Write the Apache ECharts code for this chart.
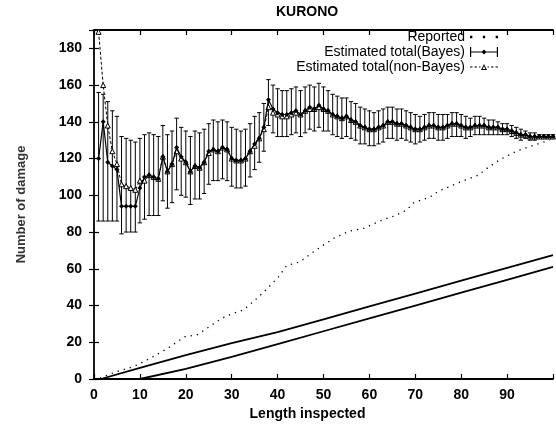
<!DOCTYPE html>
<html>
<head>
<meta charset="utf-8">
<script src="https://cdn.jsdelivr.net/npm/echarts@6/dist/echarts.min.js"></script>
<style>
  html, body { margin: 0; padding: 0; background: #fff; }
  #chart { width: 556px; height: 426px; }
</style>
</head>
<body>
<div id="chart"></div>
<script>
// length inspected for the estimate series
const lengthX = [
  1, 2, 3, 4, 5, 6, 7, 8, 9, 10,
  11, 12, 13, 14, 15, 16, 17, 18, 19, 20,
  21, 22, 23, 24, 25, 26, 27, 28, 29, 30,
  31, 32, 33, 34, 35, 36, 37, 38, 39, 40,
  41, 42, 43, 44, 45, 46, 47, 48, 49, 50,
  51, 52, 53, 54, 55, 56, 57, 58, 59, 60,
  61, 62, 63, 64, 65, 66, 67, 68, 69, 70,
  71, 72, 73, 74, 75, 76, 77, 78, 79, 80,
  81, 82, 83, 84, 85, 86, 87, 88, 89, 90,
  91, 92, 93, 94, 95, 96, 97, 98, 99, 100
]
// Estimated total (Bayes) and its interval
const bayes = [
  120, 140, 118, 116, 114, 94, 94, 94, 94, 104,
  110, 111, 110, 109, 121, 113, 117, 126, 121, 118,
  113, 116, 115, 118, 124, 125, 124, 126, 125, 120,
  119, 119, 120, 124, 128, 131, 137, 152, 147, 145,
  144, 144, 145, 146, 144, 146, 148, 147, 149, 147,
  146, 144, 143, 142, 143, 141, 140, 138, 137, 136,
  136, 137, 138, 140, 140, 139, 139, 138, 137, 136,
  136, 137, 138, 138, 137, 137, 138, 139, 139, 138,
  137, 137, 138, 138, 138, 137, 137, 137, 136, 136,
  135, 134, 133, 133, 132, 132, 132, 132, 132, 132
]
const bayesHigh = [
  156, 155, 151, 146, 143, 132, 131, 130, 129, 131,
  133, 134, 133, 132, 138, 133, 135, 142, 137, 135,
  132, 135, 134, 136, 139, 141, 140, 141, 140, 137,
  136, 135, 136, 139, 143, 145, 150, 163, 160, 158,
  157, 157, 158, 159, 157, 159, 160, 159, 161, 159,
  157, 155, 154, 153, 153, 151, 150, 148, 147, 146,
  145, 146, 147, 148, 148, 147, 147, 146, 145, 144,
  143, 144, 145, 145, 144, 144, 144, 145, 145, 144,
  143, 142, 143, 143, 142, 141, 141, 140, 139, 139,
  138, 137, 136, 135, 134, 134, 133, 133, 133, 133
]
const bayesLow = [
  86, 86, 86, 86, 86, 79, 80, 80, 80, 85,
  87, 89, 89, 89, 97, 93, 96, 103, 100, 99,
  95, 98, 98, 101, 106, 108, 108, 109, 108, 105,
  104, 104, 105, 110, 114, 118, 124, 138, 134, 132,
  132, 132, 133, 134, 132, 134, 136, 135, 137, 135,
  135, 133, 132, 131, 132, 131, 130, 128, 128, 127,
  127, 128, 129, 131, 131, 130, 131, 130, 129, 128,
  129, 130, 131, 131, 130, 130, 131, 132, 132, 132,
  131, 132, 133, 133, 133, 133, 133, 133, 133, 133,
  132, 131, 130, 131, 130, 130, 131, 131, 131, 131
]
// Estimated total (non-Bayes)
const nonBayes = [
  189, 160, 138, 124, 117, 106, 105, 104, 103, 108,
  108, 111, 110, 109, 121, 113, 117, 124, 120, 118,
  113, 116, 115, 118, 123, 125, 124, 126, 125, 120,
  119, 119, 120, 124, 127, 131, 136, 148, 145, 144,
  143, 143, 144, 145, 144, 146, 147, 147, 148, 147,
  146, 144, 143, 142, 143, 141, 140, 138, 137, 136,
  136, 137, 138, 140, 140, 139, 139, 138, 137, 136,
  136, 137, 138, 138, 137, 137, 138, 139, 139, 138,
  137, 137, 138, 138, 138, 137, 137, 137, 136, 136,
  135, 134, 133, 133, 132, 132, 132, 132, 132, 132
]
// Reported
const reportedX = [1.3, 4.9, 8.6, 11.8, 14.4, 16.6, 19.8, 22.4, 24.6, 27.8, 30.3, 32.5, 35.1, 37.6,
  40.2, 42, 44.9, 47.1, 49.6, 52.5, 55.8, 58.7, 63, 65.2, 68.1, 69.6, 73.2, 75, 79.4, 81.2,
  83.7, 85.2, 88.5, 92.1, 95.7, 99.3]
const reportedY = [0.5, 4, 6.7, 10.7, 14.3, 17.6, 23, 24, 27.6, 33, 35.7, 37.5, 43, 48.8,
  55.6, 61.8, 63.8, 68, 72.3, 77, 80.6, 82, 86.8, 88.6, 91.9, 95.9, 99.1, 102.2, 106.8, 108.6,
  110.9, 114, 119.5, 124.1, 127.2, 130]
// the two unlabelled straight lines
const upperX = [1.5, 10, 20, 30, 40, 50, 60, 70, 80, 90, 100]
const upperY = [0, 6, 13, 19.5, 25.5, 32.5, 39.5, 46.5, 53.5, 60.5, 67.5]
const lowerX = [10, 20, 30, 40, 50, 60, 70, 80, 90, 100]
const lowerY = [0, 5.5, 12, 19, 26, 33, 40, 47, 54, 61]

const xTicks = { min: 0, max: 100, interval: 10 }
const yTicks = { min: 0, max: 190, interval: 20 }

const font = 'Liberation Sans, Arial, Helvetica, sans-serif'
const zip = (xs, ys) => xs.map((x, i) => [x, ys[i]])

const chart = echarts.init(document.getElementById('chart'), null, { renderer: 'canvas' })

const tickStyle = { show: true, inside: true, length: 5, lineStyle: { color: '#000', width: 1.2 } }
const axisLine = { show: true, onZero: false, lineStyle: { color: '#000', width: 1.8 } }
const iconStyle = { color: '#000', borderWidth: 0 }

chart.setOption({
  animation: false,
  backgroundColor: '#fff',
  title: {
    text: 'KURONO', left: 276, top: 5, padding: 0,
    textStyle: { fontFamily: font, fontSize: 14, fontWeight: 'bold', color: '#000' }
  },
  legend: {
    orient: 'vertical', right: 58, top: 30, align: 'right', padding: 0,
    itemWidth: 28, itemHeight: 10, itemGap: 1,
    textStyle: { fontFamily: font, fontSize: 14, color: '#000', lineHeight: 14 },
    data: [
      { name: 'Reported', icon: 'path://M2,4h2v2h-2z M13,4h2v2h-2z M24,4h2v2h-2z', itemStyle: iconStyle },
      { name: 'Estimated total(Bayes)', icon: 'path://M0,0h1.2v10h-1.2z M26.8,0h1.2v10h-1.2z M0,4.4h28v1.2h-28z M14,2.5L16.5,5L14,7.5L11.5,5z', itemStyle: iconStyle },
      { name: 'Estimated total(non-Bayes)', icon: 'path://M0,4.5h2.5v1h-2.5z M4.5,4.5h2.5v1h-2.5z M9,4.5h1.5v1h-1.5z M17.5,4.5h1.5v1h-1.5z M21,4.5h2.5v1h-2.5z M25.5,4.5h2.5v1h-2.5z M14,2L17,8H11z M14,4L12.7,7H15.3z', itemStyle: iconStyle }
    ]
  },
  grid: { left: 94, right: 3, top: 30, bottom: 47 },
  xAxis: [{
    type: 'value', ...xTicks, position: 'bottom',
    name: 'Length inspected', nameLocation: 'middle', nameGap: 27,
    nameTextStyle: { fontFamily: font, fontSize: 14, fontWeight: 'bold', color: '#000', padding: [0, 32, 0, 0] },
    axisLine, axisTick: tickStyle, splitLine: { show: false },
    axisLabel: { fontFamily: font, fontSize: 14, fontWeight: 'bold', color: '#000', margin: 9,
      formatter: v => (v === 100 ? '' : v) }
  }, {
    type: 'value', ...xTicks, position: 'top',
    axisLine, axisTick: tickStyle, splitLine: { show: false }, axisLabel: { show: false }
  }],
  yAxis: [{
    type: 'value', ...yTicks, position: 'left',
    name: 'Number of damage', nameLocation: 'middle', nameGap: 66,
    nameTextStyle: { fontFamily: font, fontSize: 13, fontWeight: 'bold', color: '#333' },
    axisLine, axisTick: tickStyle, splitLine: { show: false },
    axisLabel: { fontFamily: font, fontSize: 14, fontWeight: 'bold', color: '#000', margin: 12,
      formatter: v => (v === 190 ? '' : v) }
  }, {
    type: 'value', ...yTicks, position: 'right',
    axisLine: { show: false }, axisTick: tickStyle, splitLine: { show: false }, axisLabel: { show: false }
  }],
  series: [
    {
      name: 'Reported', type: 'line', data: zip(reportedX, reportedY),
      showSymbol: false, symbol: 'none',
      lineStyle: { color: '#000', width: 1.3, type: [1.3, 5] }
    },
    {
      name: 'Bayes interval', type: 'custom',
      data: lengthX.map((x, i) => [x, bayesLow[i], bayesHigh[i]]),
      renderItem: (params, api) => {
        const top = api.coord([api.value(0), api.value(2)])
        const bot = api.coord([api.value(0), api.value(1)])
        const w = 2.2
        const st = { stroke: '#000', lineWidth: 1 }
        return {
          type: 'group',
          children: [
            { type: 'line', shape: { x1: top[0], y1: top[1], x2: bot[0], y2: bot[1] }, style: st },
            { type: 'line', shape: { x1: top[0] - w, y1: top[1], x2: top[0] + w, y2: top[1] }, style: st },
            { type: 'line', shape: { x1: bot[0] - w, y1: bot[1], x2: bot[0] + w, y2: bot[1] }, style: st }
          ]
        }
      },
      z: 2
    },
    {
      name: 'Estimated total(non-Bayes)', type: 'line', data: zip(lengthX, nonBayes),
      symbol: 'triangle', symbolSize: 5,
      itemStyle: { color: '#fff', borderColor: '#000', borderWidth: 1 },
      lineStyle: { color: '#000', width: 1, type: [3, 2] }, z: 3
    },
    {
      name: 'Estimated total(Bayes)', type: 'line', data: zip(lengthX, bayes),
      symbol: 'diamond', symbolSize: 5,
      itemStyle: { color: '#000' },
      lineStyle: { color: '#000', width: 1.2 }, z: 4
    },
    {
      name: 'upper', type: 'line', data: zip(upperX, upperY), symbol: 'none',
      lineStyle: { color: '#000', width: 1.8 }
    },
    {
      name: 'lower', type: 'line', data: zip(lowerX, lowerY), symbol: 'none',
      lineStyle: { color: '#000', width: 1.8 }
    }
  ]
})
</script>
</body>
</html>
